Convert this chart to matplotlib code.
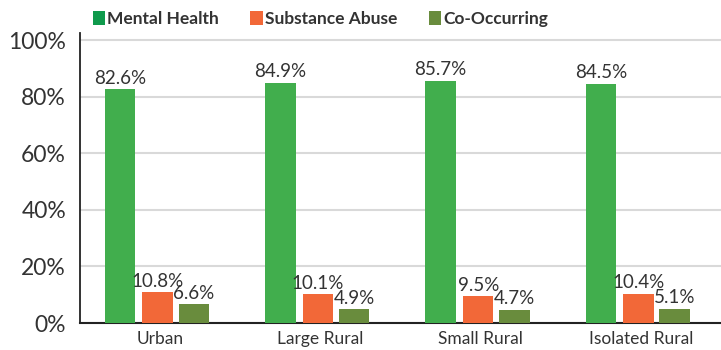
import numpy as np
import matplotlib.pyplot as plt
from matplotlib.patches import Patch

# data
categories = ["Urban", "Large Rural", "Small Rural", "Isolated Rural"]
series_names = ["Mental Health", "Substance Abuse", "Co-Occurring"]
mental_health = [82.6, 84.9, 85.7, 84.5]
substance_abuse = [10.8, 10.1, 9.5, 10.4]
co_occurring = [6.6, 4.9, 4.7, 5.1]
y_ticks = [0, 20, 40, 60, 80, 100]

bar_colors = ["#41ae4d", "#f26838", "#698c3d"]
legend_colors = ["#0f9a4c", "#f26838", "#698c3d"]
text_color = "#333333"

plt.rcParams['font.family'] = ['Lato', 'DejaVu Sans']

fig = plt.figure(figsize=(7.21, 3.5), dpi=100)
ax = fig.add_axes([80 / 721, 27 / 350, 641 / 721, 290 / 350])

x = np.arange(len(categories))
width = 0.19
offsets = [-0.25, -0.015, 0.21]
all_series = [mental_health, substance_abuse, co_occurring]

for vals, off, col in zip(all_series, offsets, bar_colors):
    bars = ax.bar(x + off, vals, width=width, color=col, zorder=3)
    for b, v in zip(bars, vals):
        ax.text(b.get_x() + b.get_width() / 2, v + 0.9, f"{v}%",
                ha="center", va="bottom", fontsize=13.5, color=text_color, zorder=4)

ax.set_xlim(-0.5, len(categories) - 0.5)
ax.set_ylim(0, 102.5)
ax.set_yticks(y_ticks)
ax.set_yticklabels([f"{t}%" for t in y_ticks], fontsize=16.5, color=text_color)
ax.set_xticks(x)
ax.set_xticklabels(categories, fontsize=12.5, color=text_color)
ax.tick_params(length=0, pad=6)
ax.tick_params(axis="y", pad=10)

ax.grid(axis="y", color="#d9d9d9", linewidth=1.5, zorder=0)
for s in ["top", "right"]:
    ax.spines[s].set_visible(False)
ax.spines["left"].set_color("#222222")
ax.spines["bottom"].set_color("#222222")
ax.spines["left"].set_linewidth(1.3)
ax.spines["bottom"].set_linewidth(1.5)

handles = [Patch(facecolor=c, label=n) for c, n in zip(legend_colors, series_names)]
fig.legend(handles=handles, loc="center left", bbox_to_anchor=(77 / 721, 0.946), ncol=3,
           frameon=False, prop={"weight": "bold", "size": 12.5},
           handlelength=0.7, handleheight=0.9, handletextpad=0.15, columnspacing=1.8,
           labelcolor=text_color)

fig.savefig("out.png", dpi=100)
